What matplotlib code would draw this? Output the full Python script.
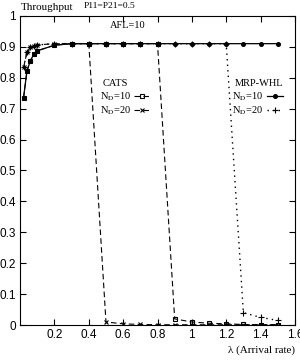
import numpy as np
import matplotlib.pyplot as plt

plt.rcParams['mathtext.fontset'] = 'stix'

# =====================
# datos
# =====================
lam = [0.02, 0.04, 0.06, 0.08, 0.1, 0.2, 0.3, 0.4, 0.5, 0.6, 0.7, 0.8,
       0.9, 1.0, 1.1, 1.2, 1.3, 1.4, 1.5]

cats_nd10 = [0.735, 0.822, 0.855, 0.876, 0.887, 0.905, 0.91, 0.91, 0.91, 0.91, 0.91, 0.91,
             0.02, 0.01, 0.006, 0.004, 0.002, 0.001, 0.001]
cats_nd20 = [0.833, 0.882, 0.898, 0.904, 0.906, 0.91, 0.91, 0.91, 0.01, 0.004, 0.002, 0.001,
             0.001, 0.001, 0.001, 0.001, 0.001, 0.001, 0.001]
mrp_nd10 = [0.735, 0.822, 0.855, 0.876, 0.887, 0.905, 0.91, 0.91, 0.91, 0.91, 0.91, 0.91,
            0.91, 0.91, 0.91, 0.91, 0.91, 0.91, 0.91]
mrp_nd20 = [0.833, 0.882, 0.898, 0.904, 0.906, 0.91, 0.91, 0.91, 0.91, 0.91, 0.91, 0.91,
            0.91, 0.91, 0.91, 0.91, 0.04, 0.025, 0.015]

xticks = [0.2, 0.4, 0.6, 0.8, 1, 1.2, 1.4, 1.6]
xticklabels = ['0.2', '0.4', '0.6', '0.8', '1', '1.2', '1.4', '1.6']
yticks = [0, 0.1, 0.2, 0.3, 0.4, 0.5, 0.6, 0.7, 0.8, 0.9, 1]
yticklabels = ['0', '0.1', '0.2', '0.3', '0.4', '0.5', '0.6', '0.7', '0.8', '0.9', '1']

serif = 'Liberation Serif'

# =====================
# gráfico
# =====================
fig = plt.figure(figsize=(3, 3.6), dpi=100)
ax = fig.add_axes([0.067, 0.097, 0.916, 0.859])

l1, = ax.plot(lam, cats_nd10, color='k', lw=0.8, ls=(0, (5, 3)), marker='s', ms=3,
              mfc='none', mew=0.8, label=r'N$_{\rm D}$=10')
l2, = ax.plot(lam, cats_nd20, color='k', lw=0.8, ls=(0, (5, 3)), marker='x', ms=3,
              mew=0.8, label=r'N$_{\rm D}$=20')
l3, = ax.plot(lam, mrp_nd10, color='k', lw=0.9, ls='-', marker='o', ms=2.6,
              label=r'N$_{\rm D}$=10')
l4, = ax.plot(lam, mrp_nd20, color='k', lw=1.0, ls=(0, (1, 3)), marker='+', ms=4,
              mew=0.8, label=r'N$_{\rm D}$=20')

ax.set_xlim(0, 1.6)
ax.set_ylim(0, 1)
ax.set_xticks(xticks)
ax.set_xticklabels(xticklabels, family='Liberation Sans')
ax.set_yticks(yticks)
ax.set_yticklabels(yticklabels, family='Liberation Sans')
ax.tick_params(direction='in', top=True, right=True, labelsize=8.5, length=4, pad=3)

leg_kw = dict(loc='upper left', frameon=False, markerfirst=False, handlelength=1.6,
              handletextpad=0.3, labelspacing=0.1, borderpad=0, borderaxespad=0,
              prop={'family': serif, 'size': 7.5})
leg1 = ax.legend(handles=[l1, l2], bbox_to_anchor=(0.29, 0.757), **leg_kw)
ax.add_artist(leg1)
ax.legend(handles=[l3, l4], bbox_to_anchor=(0.772, 0.757), **leg_kw)

ax.text(0.48, 0.78, 'CATS', family=serif, fontsize=7.5, va='center')
ax.text(1.25, 0.78, 'MRP-WHL', family=serif, fontsize=7.5, va='center')
ax.text(0.52, 0.97, 'AFL=10', family=serif, fontsize=7.5, va='center')

fig.text(0.068, 0.978, 'Throughput', family=serif, fontsize=8, va='center')
fig.text(0.278, 0.984, 'P11=P21=0.5', family=serif, fontsize=6.8, va='center')
fig.text(0.985, 0.028, 'λ (Arrival rate)', family=serif, fontsize=8, va='center', ha='right')

fig.savefig('out.png', dpi=100)
